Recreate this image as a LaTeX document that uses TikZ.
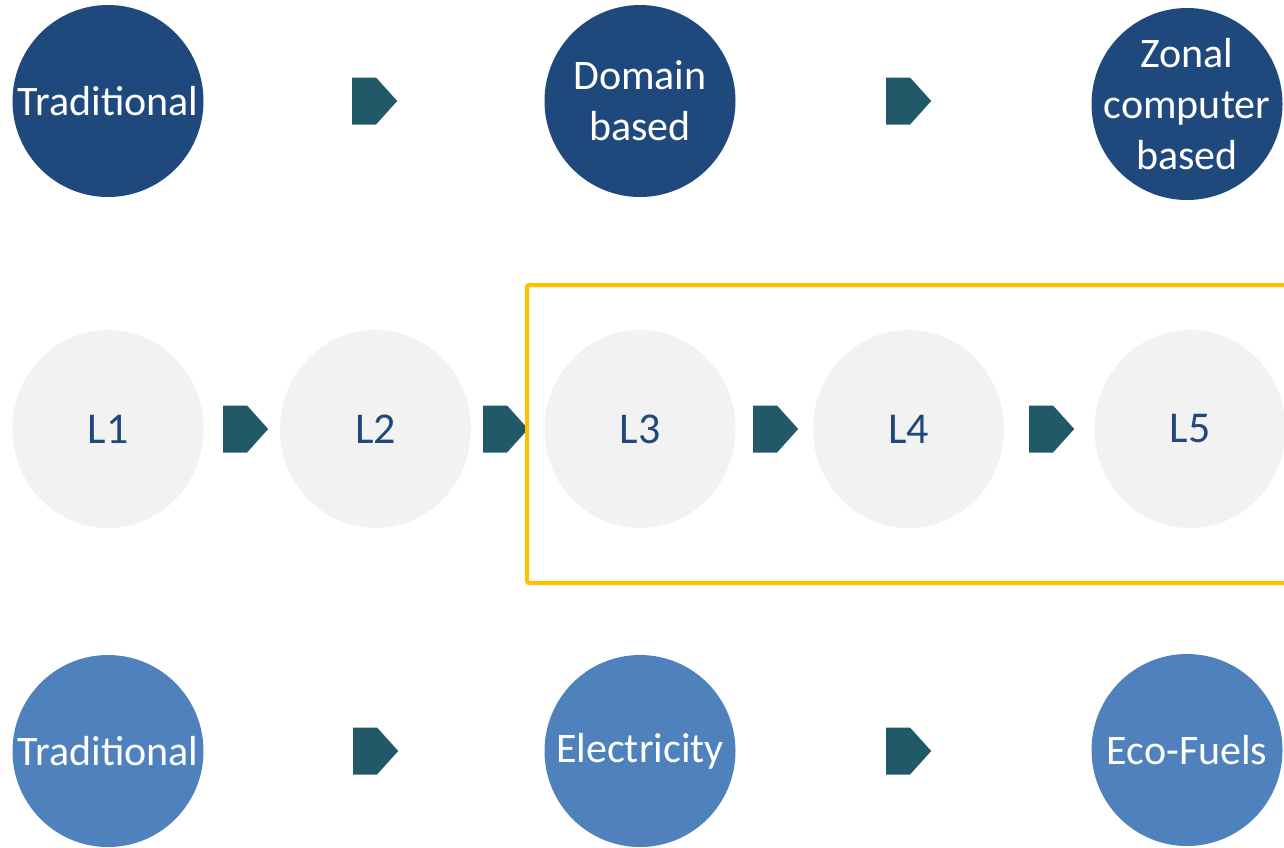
\documentclass[tikz,border=0pt]{standalone}
\usepackage{fontspec}
\setmainfont{Carlito}
\usetikzlibrary{shapes.geometric,shapes.symbols}
\definecolor{navy}{HTML}{1F497D}
\definecolor{lblue}{HTML}{4F81BD}
\definecolor{teal}{HTML}{215968}
\definecolor{lgrey}{HTML}{F2F2F2}
\definecolor{gold}{HTML}{FFC000}
\tikzset{
  bub/.style={ellipse, inner sep=0pt, minimum width=191pt, minimum height=192pt,
    label={[align=center, text=white, font=\fontsize{42}{51}\selectfont]center:#1}},
  dark/.style={bub={#1}, fill=navy},
  light/.style={bub={#1}, fill=lblue},
  lev/.style={ellipse, inner sep=0pt, minimum width=191pt, minimum height=198pt, fill=lgrey,
    label={[text=navy, font=\fontsize{44}{50}\selectfont]center:#1}},
  arr/.style={signal, signal to=east, signal pointer angle=96, fill=teal, draw=none,
    inner sep=0pt, minimum width=45pt, minimum height=47pt, anchor=west},
}
\begin{document}
\begin{tikzpicture}[x=1pt,y=-1pt]
\useasboundingbox (0,0) rectangle (1284,847);
\clip (0,0) rectangle (1284,847);
% top row
\node[dark={Traditional}] (t1) at (108,101) {};
\node[dark={Domain\\based}] (t2) at (640,101) {};
\node[dark={Zonal\\computer\\based}] (t3) at (1187,104) {};
\node[arr] (ta1) at (352,101) {};
\node[arr] (ta2) at (886,101) {};
% middle row
\node[lev={L1}] (l1) at (108,429) {};
\node[lev={L2}] (l2) at (375.5,429) {};
\node[lev={L3}] (l3) at (640,429) {};
\node[lev={L4}] (l4) at (908.5,429) {};
\node[lev={L5}] (l5) at (1190,429) {};
\node[arr] (ma1) at (223,429) {};
\node[arr] (ma2) at (483,429) {};
\node[arr] (ma3) at (753,429) {};
\node[arr] (ma4) at (1029,429) {};
% highlight box
\draw[gold, line width=4pt, rounded corners=2pt] (527,285) rectangle (1300,583);
% bottom row
\node[light={Traditional}] (b1) at (108,751) {};
\node[light={Electricity}] (b2) at (640,751) {};
\node[light={Eco-Fuels}] (b3) at (1187,750) {};
\node[arr] (ba1) at (353,751) {};
\node[arr] (ba2) at (886,751) {};
\end{tikzpicture}
\end{document}
